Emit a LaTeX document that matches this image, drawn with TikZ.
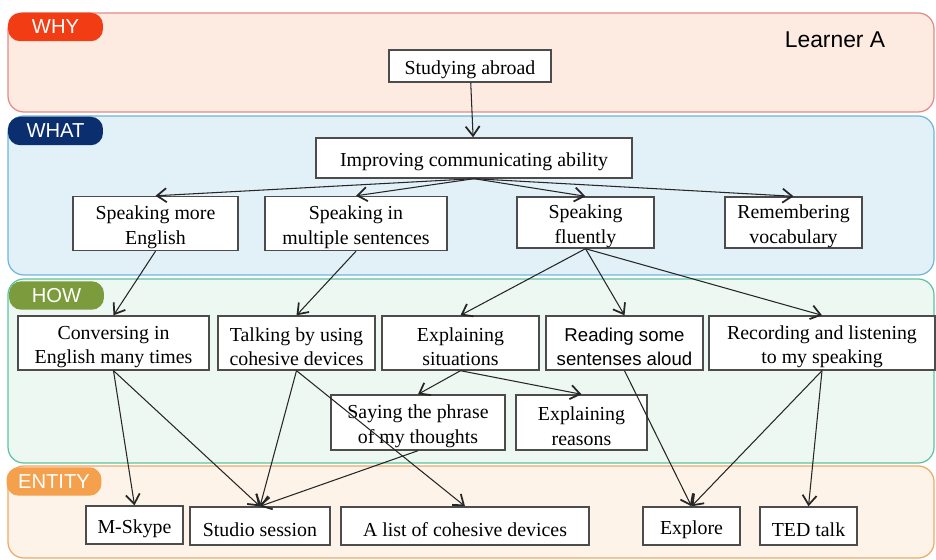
\documentclass[tikz,border=0pt]{standalone}
\usepackage{fontspec}
\setmainfont{Liberation Serif}
\setsansfont{Liberation Sans}
\usetikzlibrary{arrows.meta,positioning}
\definecolor{whyfill}{HTML}{FDEBE1}
\definecolor{whyline}{HTML}{E38A84}
\definecolor{whytab}{HTML}{F23C14}
\definecolor{whatfill}{HTML}{E2F0F8}
\definecolor{whatline}{HTML}{70B5DC}
\definecolor{whattab}{HTML}{0B2E6E}
\definecolor{howfill}{HTML}{EEF8F2}
\definecolor{howline}{HTML}{5CC3A3}
\definecolor{howtab}{HTML}{7C9B3C}
\definecolor{entfill}{HTML}{FDF3E8}
\definecolor{entline}{HTML}{F2A766}
\definecolor{enttab}{HTML}{F5A04C}

\begin{document}
\begin{tikzpicture}[
  x=0.02cm, y=-0.02cm,
  >={Straight Barb[length=1.9mm,width=2.8mm,line width=1pt]},
  every node/.style={font=\fontsize{11.3}{14}\selectfont},
  concept/.style={draw=black!70,line width=0.8pt,fill=white,align=center,inner xsep=1pt,inner ysep=0pt},
  oneline/.style={concept,minimum height=0.76cm,execute at begin node={\rule{0pt}{12pt}}},
  twoline/.style={concept,minimum height=1.08cm,execute at begin node={\rule{0pt}{26pt}}},
  panel/.style={rounded corners=9pt,line width=0.7pt},
  tab/.style={rounded corners=7pt,text=white,minimum width=1.9cm,minimum height=0.57cm,
    inner sep=0pt,font=\sffamily\fontsize{11.5}{13}\selectfont},
  link/.style={->,semithick,black!85}
]
\useasboundingbox (0,0) rectangle (936,560);

% layers
\draw[panel,draw=whyline,fill=whyfill] (8,13) rectangle (934,112);
\draw[panel,draw=whatline,fill=whatfill] (8,116) rectangle (934,275);
\draw[panel,draw=howline,fill=howfill] (8,279) rectangle (934,463);
\draw[panel,draw=entline,fill=entfill] (8,466) rectangle (934,558);

\node[tab,fill=whytab] (why) at (55.5,27) {WHY};
\node[tab,fill=whattab] (what) at (55.5,131) {WHAT};
\node[tab,fill=howtab] (how) at (56.5,295.5) {HOW};
\node[tab,fill=enttab] (entity) at (54,481.5) {ENTITY};
\node[font=\sffamily\fontsize{13}{15}\selectfont] (learner) at (835,40) {Learner A};

% why / what
\node[oneline,minimum width=3.24cm,minimum height=0.64cm] (abroad) at (470,66) {Studying abroad};
\node[oneline,minimum width=6.32cm,minimum height=0.8cm] (improve) at (474,158) {Improving communicating ability};
\node[twoline,minimum width=3.3cm] (more) at (155.5,223.5) {Speaking more\\English};
\node[twoline,minimum width=3.64cm] (multi) at (356,223.5) {Speaking in\\multiple sentences};
\node[twoline,minimum width=2.74cm,minimum height=1.02cm] (fluent) at (585.5,222.5) {Speaking\\fluently};
\node[twoline,minimum width=2.74cm,minimum height=1.02cm] (vocab) at (793.5,222.5) {Remembering\\vocabulary};

% how
\node[twoline,minimum width=3.82cm] (conv) at (113.5,343) {Conversing in\\English many times};
\node[twoline,minimum width=3.14cm] (cohes) at (296.5,343) {Talking by using\\cohesive devices};
\node[twoline,minimum width=3.14cm] (situ) at (460.5,343) {Explaining\\situations};
\node[twoline,minimum width=3.14cm,font=\sffamily\fontsize{10.6}{13.6}\selectfont] (aloud) at (624.5,343) {Reading some\\sentenses aloud};
\node[twoline,minimum width=4.52cm] (record) at (822,343) {Recording and listening\\to my speaking};
\node[twoline,minimum width=3.48cm,minimum height=1.1cm] (phrase) at (418,422.5) {Saying the phrase\\of my thoughts};
\node[twoline,minimum width=2.62cm,minimum height=1.1cm] (reasons) at (581.5,422.5) {Explaining\\reasons};

% entity
\node[oneline,minimum width=1.94cm] (skype) at (134.5,525) {M-Skype};
\node[oneline,minimum width=2.8cm] (studio) at (260,526) {Studio session};
\node[oneline,minimum width=4.96cm] (list) at (465,526) {A list of cohesive devices};
\node[oneline,minimum width=1.94cm] (explore) at (691.5,526) {Explore};
\node[oneline,minimum width=1.94cm] (ted) at (808.5,526) {TED talk};

\draw[link] (abroad) -- (improve);
\draw[link] (improve.south) -- (more.north);
\draw[link] (improve.south) -- (multi.north);
\draw[link] (improve.south) -- (fluent.north);
\draw[link] (improve.south) -- (vocab.north);
\draw[link] (more.south) -- (conv.north);
\draw[link] (multi.south) -- (cohes.north);
\draw[link] (fluent.south) -- (situ.north);
\draw[link] (fluent.south) -- (aloud.north);
\draw[link] (fluent.south) -- (record.north);
\draw[link] (situ.south) -- (phrase.north);
\draw[link] (situ.south) -- (reasons.north);
\draw[link] (conv.south) -- (skype.north);
\draw[link] (conv.south) -- (studio.north);
\draw[link] (cohes.south) -- (studio.north);
\draw[link] (cohes.south) -- (list.north);
\draw[link] (phrase.south) -- (studio.north);
\draw[link] (aloud.south) -- (explore.north);
\draw[link] (record.south) -- (explore.north);
\draw[link] (record.south) -- (ted.north);
\end{tikzpicture}
\end{document}
